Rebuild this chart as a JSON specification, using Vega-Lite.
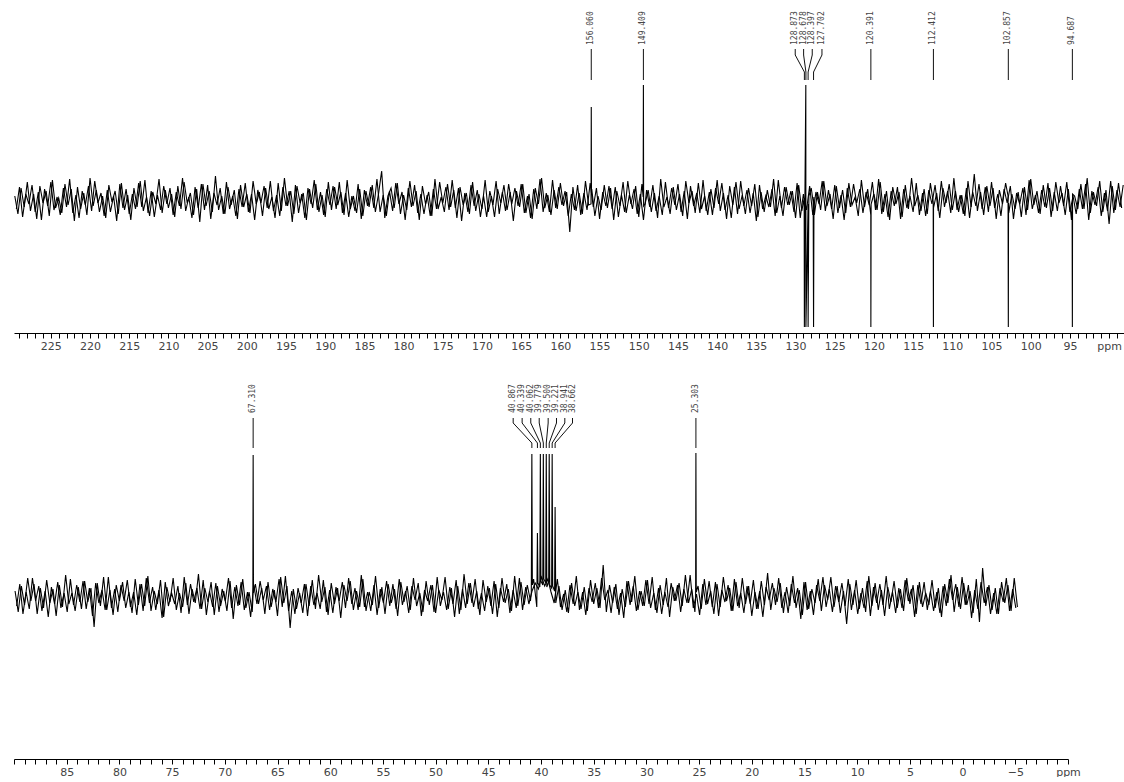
{
 "$schema": "https://vega.github.io/schema/vega-lite/v6.json",
 "background": "white",
 "padding": {"left": 12, "top": 0, "right": 0, "bottom": 0},
 "bounds": "flush",
 "spacing": 47,
 "config": {"view": {"stroke": null}, "font": "DejaVu Sans"},
 "datasets": {
  "topLabels": [
   {"p": 156.06, "lx": 156.06, "t": "156.060"},
   {"p": 149.409, "lx": 149.409, "t": "149.409"},
   {"p": 128.873, "lx": 130.04, "t": "128.873"},
   {"p": 128.678, "lx": 128.97, "t": "128.678"},
   {"p": 128.397, "lx": 127.87, "t": "128.397"},
   {"p": 127.702, "lx": 126.63, "t": "127.702"},
   {"p": 120.391, "lx": 120.391, "t": "120.391"},
   {"p": 112.412, "lx": 112.412, "t": "112.412"},
   {"p": 102.857, "lx": 102.857, "t": "102.857"},
   {"p": 94.687, "lx": 94.687, "t": "94.687"}
  ],
  "bottomLabels": [
   {"p": 67.31, "lx": 67.31, "t": "67.310"},
   {"p": 40.867, "lx": 42.64, "t": "40.867"},
   {"p": 40.339, "lx": 41.79, "t": "40.339"},
   {"p": 40.062, "lx": 40.97, "t": "40.062"},
   {"p": 39.779, "lx": 40.17, "t": "39.779"},
   {"p": 39.5, "lx": 39.32, "t": "39.500"},
   {"p": 39.221, "lx": 38.53, "t": "39.221"},
   {"p": 38.941, "lx": 37.74, "t": "38.941"},
   {"p": 38.662, "lx": 37.01, "t": "38.662"},
   {"p": 25.303, "lx": 25.303, "t": "25.303"}
  ]
 },
 "vconcat": [
  {
   "width": 1110, "height": 333,
   "layer": [
    {
     "data": {"values": "p,v\n229.6,4\n229.2,-14\n228.8,12\n228.4,-7\n228,18\n227.6,-11\n227.2,6\n226.8,-19\n226.4,14\n226,-3\n225.6,9\n225.2,-16\n224.8,20\n224.4,-8\n224,2\n223.6,-13\n223.2,16\n222.8,-5\n222.4,11\n222,-21\n221.6,13\n221.2,-9\n220.8,7\n220.4,-15\n220,22\n219.6,-6\n219.2,10\n218.8,-12\n218.4,4\n218,-18\n217.6,15\n217.2,-2\n216.8,9\n216.4,-14\n216,17\n215.6,-10\n215.2,5\n214.8,-20\n214.4,12\n214,-7\n213.6,19\n213.2,-11\n212.8,3\n212.4,-16\n212,8\n211.6,-4\n211.2,21\n210.8,-13\n210.4,10\n210,-8\n209.6,6\n209.2,-17\n208.8,14\n208.4,-9\n208,18\n207.6,-3\n207.2,7\n206.8,-15\n206.4,11\n206,-22\n205.6,16\n205.2,-6\n204.8,9\n204.4,-12\n204,24\n203.6,-10\n203.2,4\n202.8,-14\n202.4,13\n202,-5\n201.6,10\n201.2,-19\n200.8,15\n200.4,-7\n200,6\n199.6,-13\n199.2,19\n198.8,-4\n198.4,8\n198,-16\n197.6,12\n197.2,-9\n196.8,3\n196.4,-18\n196,17\n195.6,-11\n195.2,22\n194.8,-6\n194.4,9\n194,-14\n193.6,14\n193.2,-3\n192.8,7\n192.4,-20\n192,11\n191.6,-8\n191.2,16\n190.8,-12\n190.4,5\n190,-17\n189.6,18\n189.2,-10\n188.8,13\n188.4,-5\n188,8\n187.6,-15\n187.2,20\n186.8,-9\n186.4,4\n186,-13\n185.6,11\n185.2,-16\n184.8,9\n184.4,-7\n184,15\n183.6,-12\n183.2,6\n182.8,29\n182.4,-18\n182,4\n181.6,12\n181.2,-8\n180.8,17\n180.4,-14\n180,5\n179.6,-10\n179.2,19\n178.8,-6\n178.4,9\n178,-20\n177.6,14\n177.2,-4\n176.8,8\n176.4,-16\n176,21\n175.6,-9\n175.2,3\n174.8,-12\n174.4,16\n174,-7\n173.6,10\n173.2,-18\n172.8,13\n172.4,-5\n172,7\n171.6,-14\n171.2,18\n170.8,-11\n170.4,6\n170,-9\n169.6,20\n169.2,-12\n168.8,4\n168.4,-17\n168,11\n167.6,-3\n167.2,15\n166.8,-10\n166.4,8\n166,-21\n165.6,9\n165.2,-7\n164.8,16\n164.4,-13\n164,6\n163.6,-19\n163.2,12\n162.8,-4\n162.4,22\n162,-8\n161.6,5\n161.2,-15\n160.8,10\n160.4,-9\n160,17\n159.6,-6\n159.2,8\n158.8,-32\n158.4,13\n158,-11\n157.6,7\n157.2,-14\n156.8,19\n156.4,-5\n156.09,-4\n156.06,93\n156.03,5\n156,11\n155.6,-16\n155.2,4\n154.8,-10\n154.4,15\n154,-8\n153.6,12\n153.2,-20\n152.8,9\n152.4,-6\n152,18\n151.6,-13\n151.2,5\n150.8,-9\n150.4,14\n150,-17\n149.6,16\n149.44,3\n149.409,115\n149.38,-6\n149.2,-4\n148.8,10\n148.4,-12\n148,7\n147.6,-18\n147.2,21\n146.8,-7\n146.4,3\n146,-14\n145.6,13\n145.2,-10\n144.8,6\n144.4,-16\n144,19\n143.6,-3\n143.2,9\n142.8,-13\n142.4,17\n142,-9\n141.6,4\n141.2,-15\n140.8,11\n140.4,-8\n140,20\n139.6,-11\n139.2,7\n138.8,-19\n138.4,14\n138,-5\n137.6,18\n137.2,-9\n136.8,5\n136.4,-14\n136,12\n135.6,-6\n135.2,16\n134.8,-17\n134.4,8\n134,-12\n133.6,10\n133.2,-7\n132.8,21\n132.4,-13\n132,4\n131.6,-16\n131.2,13\n130.8,-5\n130.4,9\n130,-18\n129.6,15\n129.2,-11\n128.9,2\n128.873,-127\n128.8,7\n128.69,115\n128.678,-127\n128.4,-4\n128.397,-127\n128.3,4\n128,12\n127.75,-2\n127.702,-127\n127.65,3\n127.6,-15\n127.2,8\n126.8,-10\n126.4,19\n126,-6\n125.6,6\n125.2,-19\n124.8,14\n124.4,-8\n124,10\n123.6,-13\n123.2,17\n122.8,-5\n122.4,3\n122,-16\n121.6,20\n121.2,-7\n120.8,11\n120.4,-15\n120.391,-127\n120.36,-4\n120,6\n119.6,-10\n119.2,18\n118.8,-12\n118.4,9\n118,-20\n117.6,13\n117.2,-4\n116.8,8\n116.4,-17\n116,15\n115.6,-9\n115.2,22\n114.8,-6\n114.4,5\n114,-11\n113.6,11\n113.2,-14\n112.8,17\n112.44,-2\n112.412,-127\n112.4,-8\n112,7\n111.6,-18\n111.2,12\n110.8,-3\n110.4,16\n110,-10\n109.6,9\n109.2,-12\n108.8,5\n108.4,-16\n108,19\n107.6,-7\n107.2,26\n106.8,-11\n106.4,8\n106,-15\n105.6,14\n105.2,-6\n104.8,12\n104.4,-19\n104,10\n103.6,-4\n103.2,17\n102.89,4\n102.857,-127\n102.83,-3\n102.8,-13\n102.4,6\n102,-9\n101.6,8\n101.2,-17\n100.8,13\n100.4,-10\n100,21\n99.6,-5\n99.2,9\n98.8,-14\n98.4,15\n98,-8\n97.6,12\n97.2,-11\n96.8,18\n96.4,-3\n96,7\n95.6,-15\n95.2,11\n94.8,-20\n94.72,-5\n94.687,-127\n94.66,6\n94.4,4\n94,-9\n93.6,16\n93.2,-9\n92.8,22\n92.4,-13\n92,8\n91.6,-6\n91.2,19\n90.8,-12\n90.4,10\n90,-24\n89.6,14\n89.2,-10\n88.8,17\n88.4,-8", "format": {"type": "csv"}},
     "mark": {"type": "line", "color": "#000", "strokeWidth": 1.1},
     "encoding": {
      "x": {"field": "p", "type": "quantitative", "scale": {"domain": [229.7, 88.1], "nice": false, "zero": false},
       "axis": {"title": null, "grid": false, "tickCount": 142, "labelOverlap": false, "labelFlush": false, "domainColor": "#000", "tickColor": "#000",
        "tickSize": 5, "labelPadding": 2, "labelFont": "DejaVu Sans", "labelFontSize": 11, "labelColor": "#444",
        "labelExpr": "datum.value === 90 ? 'ppm' : (datum.value % 5 === 0 ? datum.label : '')",
        "encode": {
         "ticks": {"update": {"y2": {"signal": "datum.value % 5 === 0 ? 5 : 3"}}},
         "labels": {"update": {"dx": {"signal": "datum.value === 90 ? 6 : 0"}, "font": {"signal": "datum.value === 90 ? 'Liberation Serif' : 'DejaVu Sans'"}, "fontSize": {"signal": "datum.value === 90 ? 12 : 11"}}}
        }}},
      "y": {"field": "v", "type": "quantitative", "scale": {"domain": [-133, 200], "nice": false, "zero": false}, "axis": null}
     }
    },
    {
     "data": {"values": "p,v\n229.4,-9\n229,13\n228.6,-17\n228.2,6\n227.8,-4\n227.4,15\n227,-12\n226.6,8\n226.2,-20\n225.8,11\n225.4,-6\n225,18\n224.6,-10\n224.2,3\n223.8,-15\n223.4,12\n223,-7\n222.6,21\n222.2,-13\n221.8,5\n221.4,-18\n221,9\n220.6,-5\n220.2,14\n219.8,-11\n219.4,19\n219,-3\n218.6,7\n218.2,-16\n217.8,10\n217.4,-12\n217,4\n216.6,-21\n216.2,16\n215.8,-8\n215.4,11\n215,-14\n214.6,6\n214.2,-9\n213.8,17\n213.4,-7\n213,20\n212.6,-13\n212.2,9\n211.8,-17\n211.4,5\n211,-10\n210.6,14\n210.2,-4\n209.8,12\n209.4,-15\n209,8\n208.6,-6\n208.2,22\n207.8,-11\n207.4,3\n207,-18\n206.6,13\n206.2,-8\n205.8,16\n205.4,-10\n205,15\n204.6,-19\n204.2,7\n203.8,-5\n203.4,12\n203,-14\n202.6,18\n202.2,-9\n201.8,4\n201.4,-16\n201,11\n200.6,-7\n200.2,17\n199.8,-12\n199.4,6\n199,-20\n198.6,10\n198.2,-3\n197.8,14\n197.4,-8\n197,19\n196.6,-11\n196.2,5\n195.8,-16\n195.4,13\n195,-6\n194.6,9\n194.2,-22\n193.8,15\n193.4,-13\n193,6\n192.6,-18\n192.2,12\n191.8,-4\n191.4,20\n191,-10\n190.6,8\n190.2,-15\n189.8,11\n189.4,-5\n189,14\n188.6,-9\n188.2,18\n187.8,-13\n187.4,7\n187,-17\n186.6,4\n186.2,-11\n185.8,16\n185.4,-19\n185,10\n184.6,-6\n184.2,13\n183.8,-8\n183.4,21\n183,-12\n182.6,5\n182.2,-16\n181.8,9\n181.4,-11\n181,17\n180.6,-4\n180.2,8\n179.8,-20\n179.4,12\n179,-7\n178.6,15\n178.2,-13\n177.8,6\n177.4,-14\n177,5\n176.6,-16\n176.2,11\n175.8,-9\n175.4,18\n175,-3\n174.6,13\n174.2,-10\n173.8,20\n173.4,-8\n173,12\n172.6,-21\n172.2,7\n171.8,-12\n171.4,15\n171,-6\n170.6,10\n170.2,-17\n169.8,4\n169.4,-17\n169,9\n168.6,-5\n168.2,19\n167.8,-14\n167.4,8\n167,-11\n166.6,16\n166.2,-4\n165.8,12\n165.4,-6\n165,16\n164.6,-13\n164.2,4\n163.8,-18\n163.4,11\n163,-9\n162.6,21\n162.2,-12\n161.8,7\n161.4,-12\n161,20\n160.6,-8\n160.2,13\n159.8,-5\n159.4,9\n159,-16\n158.6,6\n158.2,-10\n157.8,15\n157.4,-15\n157,7\n156.6,-10\n156.2,17\n155.8,-7\n155.4,12\n155,-19\n154.6,8\n154.2,-6\n153.8,14\n153.4,-9\n153,13\n152.6,-17\n152.2,5\n151.8,-12\n151.4,19\n151,-4\n150.6,11\n150.2,-14\n149.8,6\n149.4,-20\n149,10\n148.6,-7\n148.2,15\n147.8,-11\n147.4,4\n147,-15\n146.6,18\n146.2,-8\n145.8,12\n145.4,-5\n145,16\n144.6,-12\n144.2,9\n143.8,-19\n143.4,14\n143,-6\n142.6,7\n142.2,-13\n141.8,20\n141.4,-11\n141,8\n140.6,-15\n140.2,12\n139.8,-4\n139.4,17\n139,-10\n138.6,5\n138.2,-18\n137.8,13\n137.4,-14\n137,19\n136.6,-6\n136.2,10\n135.8,-13\n135.4,7\n135,-21\n134.6,15\n134.2,-9\n133.8,4\n133.4,-7\n133,11\n132.6,-16\n132.2,20\n131.8,-8\n131.4,13\n131,-5\n130.6,9\n130.2,-12\n129.8,17\n129.4,-18\n129,6\n128.6,-10\n128.2,14\n127.8,-15\n127.4,8\n127,-4\n126.6,19\n126.2,-11\n125.8,10\n125.4,-9\n125,15\n124.6,-13\n124.2,5\n123.8,-20\n123.4,12\n123,-7\n122.6,16\n122.2,-3\n121.8,11\n121.4,-13\n121,8\n120.6,-5\n120.2,18\n119.8,-10\n119.4,21\n119,-14\n118.6,6\n118.2,-17\n117.8,9\n117.4,-6\n117,13\n116.6,-19\n116.2,11\n115.8,-8\n115.4,4\n115,-12\n114.6,17\n114.2,-15\n113.8,7\n113.4,-16\n113,10\n112.6,-4\n112.2,15\n111.8,-11\n111.4,19\n111,-7\n110.6,9\n110.2,-13\n109.8,22\n109.4,-10\n109,5\n108.6,-14\n108.2,12\n107.8,-18\n107.4,8\n107,-6\n106.6,16\n106.2,-9\n105.8,13\n105.4,-12\n105,18\n104.6,-8\n104.2,6\n103.8,-16\n103.4,11\n103,-3\n102.6,14\n102.2,-19\n101.8,7\n101.4,-4\n101,12\n100.6,-15\n100.2,20\n99.8,-9\n99.4,5\n99,-13\n98.6,10\n98.2,-7\n97.8,17\n97.4,-17\n97,8\n96.6,-11\n96.2,14\n95.8,-6\n95.4,18\n95,-12\n94.6,4\n94.2,-14\n93.8,11\n93.4,-9\n93,16\n92.6,-20\n92.2,9\n91.8,-5\n91.4,13\n91,-16\n90.6,7\n90.2,-11\n89.8,19\n89.4,-13\n89,10\n88.6,-7\n88.2,15", "format": {"type": "csv"}},
     "mark": {"type": "line", "color": "#000", "strokeWidth": 1.1},
     "encoding": {
      "x": {"field": "p", "type": "quantitative", "scale": {"domain": [229.7, 88.1], "nice": false, "zero": false}},
      "y": {"field": "v", "type": "quantitative", "scale": {"domain": [-133, 200], "nice": false, "zero": false}, "axis": null}
     }
    },
    {"data": {"name": "topLabels"},
     "mark": {"type": "text", "angle": 270, "align": "left", "baseline": "middle", "font": "DejaVu Sans Mono", "fontSize": 8, "color": "#444"},
     "encoding": {"x": {"field": "lx", "type": "quantitative", "scale": {"domain": [229.7, 88.1], "nice": false, "zero": false}},
      "y": {"datum": 155, "scale": {"domain": [-133, 200], "nice": false, "zero": false}, "axis": null}, "text": {"field": "t"}}},
    {"data": {"name": "topLabels"},
     "mark": {"type": "rule", "color": "#111", "strokeWidth": 1},
     "encoding": {"x": {"field": "lx", "type": "quantitative", "scale": {"domain": [229.7, 88.1], "nice": false, "zero": false}},
      "y": {"datum": 151, "scale": {"domain": [-133, 200], "nice": false, "zero": false}, "axis": null}, "y2": {"datum": 145}}},
    {"data": {"name": "topLabels"},
     "mark": {"type": "rule", "color": "#111", "strokeWidth": 1},
     "encoding": {"x": {"field": "lx", "type": "quantitative", "scale": {"domain": [229.7, 88.1], "nice": false, "zero": false}}, "x2": {"field": "p"},
      "y": {"datum": 145, "scale": {"domain": [-133, 200], "nice": false, "zero": false}, "axis": null}, "y2": {"datum": 128}}},
    {"data": {"name": "topLabels"},
     "mark": {"type": "rule", "color": "#111", "strokeWidth": 1},
     "encoding": {"x": {"field": "p", "type": "quantitative", "scale": {"domain": [229.7, 88.1], "nice": false, "zero": false}},
      "y": {"datum": 128, "scale": {"domain": [-133, 200], "nice": false, "zero": false}, "axis": null}, "y2": {"datum": 120}}}
   ]
  },
  {
   "width": 1054, "height": 379,
   "layer": [
    {
     "data": {"values": "p,v\n89.9,6\n89.6,-15\n89.3,11\n89,-8\n88.7,19\n88.4,-4\n88.1,13\n87.8,-17\n87.5,9\n87.2,-11\n86.9,17\n86.6,-6\n86.3,8\n86,-19\n85.7,12\n85.4,-10\n85.1,22\n84.8,-7\n84.5,4\n84.2,-14\n83.9,10\n83.6,-12\n83.3,16\n83,-5\n82.7,9\n82.4,-30\n82.1,14\n81.8,-9\n81.5,20\n81.2,-13\n80.9,7\n80.6,-18\n80.3,12\n80,-4\n79.7,15\n79.4,-11\n79.1,5\n78.8,-16\n78.5,18\n78.2,-8\n77.9,13\n77.6,-9\n77.3,21\n77,-14\n76.7,6\n76.4,-7\n76.1,17\n75.8,-20\n75.5,10\n75.2,-5\n74.9,19\n74.6,-13\n74.3,4\n74,-10\n73.7,14\n73.4,-17\n73.1,8\n72.8,-6\n72.5,23\n72.2,-12\n71.9,9\n71.6,-5\n71.3,15\n71,-18\n70.7,11\n70.4,-9\n70.1,6\n69.8,-14\n69.5,16\n69.2,-22\n68.9,12\n68.6,-8\n68.3,18\n68,-11\n67.7,5\n67.4,-15\n67.34,-3\n67.31,142\n67.28,4\n67.1,13\n66.8,-7\n66.5,9\n66.2,-17\n65.9,15\n65.6,-10\n65.3,7\n65,-19\n64.7,20\n64.4,-6\n64.1,11\n63.8,-31\n63.5,8\n63.2,-12\n62.9,4\n62.6,-16\n62.3,13\n62,-9\n61.7,17\n61.4,-12\n61.1,22\n60.8,-5\n60.5,10\n60.2,-18\n59.9,14\n59.6,-7\n59.3,9\n59,-21\n58.7,12\n58.4,-4\n58.1,16\n57.8,-13\n57.5,6\n57.2,-10\n56.9,18\n56.6,-14\n56.3,5\n56,-8\n55.7,21\n55.4,-11\n55.1,10\n54.8,-17\n54.5,13\n54.2,-6\n53.9,8\n53.6,-19\n53.3,15\n53,-5\n52.7,11\n52.4,-13\n52.1,19\n51.8,-9\n51.5,4\n51.2,-15\n50.9,16\n50.6,-8\n50.3,12\n50,-16\n49.7,7\n49.4,-3\n49.1,20\n48.8,-12\n48.5,9\n48.2,-20\n47.9,11\n47.6,-13\n47.3,23\n47,-7\n46.7,14\n46.4,-10\n46.1,6\n45.8,-18\n45.5,17\n45.2,-5\n44.9,9\n44.6,-17\n44.3,13\n44,-11\n43.7,19\n43.4,-6\n43.1,8\n42.8,-14\n42.5,21\n42.2,-9\n41.9,15\n41.6,-8\n41.3,12\n41,-4\n40.92,4\n40.867,143\n40.82,12\n40.7,18\n40.4,-10\n40.339,64\n40.29,14\n40.11,10\n40.062,143\n40.01,16\n39.83,12\n39.779,143\n39.73,18\n39.55,14\n39.5,143\n39.45,10\n39.27,15\n39.221,143\n39.17,12\n38.99,9\n38.941,143\n38.89,11\n38.71,6\n38.662,90\n38.6,-6\n38.3,11\n38,-13\n37.7,7\n37.4,-16\n37.1,14\n36.8,-9\n36.5,5\n36.2,-12\n35.9,10\n35.6,-14\n35.3,17\n35,-7\n34.7,9\n34.4,-11\n34.1,32\n33.8,-15\n33.5,12\n33.2,-6\n32.9,13\n32.6,-18\n32.3,8\n32,-10\n31.7,16\n31.4,-5\n31.1,21\n30.8,-13\n30.5,6\n30.2,-9\n29.9,17\n29.6,-11\n29.3,4\n29,-16\n28.7,12\n28.4,-8\n28.1,19\n27.8,-20\n27.5,10\n27.2,-4\n26.9,14\n26.6,-9\n26.3,22\n26,-6\n25.7,8\n25.4,-15\n25.33,-2\n25.303,144\n25.27,5\n25.1,11\n24.8,-12\n24.5,18\n24.2,-7\n23.9,6\n23.6,-17\n23.3,13\n23,-10\n22.7,20\n22.4,-4\n22.1,9\n21.8,-14\n21.5,15\n21.2,-11\n20.9,19\n20.6,-7\n20.3,11\n20,-19\n19.7,5\n19.4,-12\n19.1,16\n18.8,-8\n18.5,24\n18.2,-13\n17.9,9\n17.6,-5\n17.3,14\n17,-16\n16.7,10\n16.4,-9\n16.1,21\n15.8,-11\n15.5,7\n15.2,-18\n14.9,15\n14.6,-12\n14.3,8\n14,-6\n13.7,18\n13.4,-14\n13.1,12\n12.8,-3\n12.5,20\n12.2,-10\n11.9,11\n11.6,-16\n11.3,6\n11,-27\n10.7,13\n10.4,-8\n10.1,17\n9.8,-12\n9.5,9\n9.2,-15\n8.9,21\n8.6,-9\n8.3,14\n8,-13\n7.7,7\n7.4,-19\n7.1,10\n6.8,-5\n6.5,16\n6.2,-11\n5.9,8\n5.6,-14\n5.3,19\n5,-7\n4.7,12\n4.4,-17\n4.1,15\n3.8,-10\n3.5,4\n3.2,-8\n2.9,17\n2.6,-11\n2.3,9\n2,-20\n1.7,13\n1.4,-6\n1.1,22\n0.8,-15\n0.5,10\n0.2,-12\n-0.1,14\n-0.4,-8\n-0.7,6\n-1,-16\n-1.3,18\n-1.6,-25\n-1.9,29\n-2.2,-9\n-2.5,12\n-2.8,-13\n-3.1,9\n-3.4,-17\n-3.7,15\n-4,-6\n-4.3,12\n-4.6,-14\n-4.9,19\n-5.2,-10", "format": {"type": "csv"}},
     "mark": {"type": "line", "color": "#000", "strokeWidth": 1.1},
     "encoding": {
      "x": {"field": "p", "type": "quantitative", "scale": {"domain": [90, -10], "nice": false, "zero": false},
       "axis": {"title": null, "grid": false, "tickCount": 100, "labelOverlap": false, "labelFlush": false, "domainColor": "#000", "tickColor": "#000",
        "tickSize": 5, "labelPadding": 2, "labelFont": "DejaVu Sans", "labelFontSize": 11, "labelColor": "#444",
        "labelExpr": "datum.value === -10 ? 'ppm' : ((datum.value % 5 === 0 && datum.value < 89) ? datum.label : '')",
        "encode": {
         "ticks": {"update": {"y2": {"signal": "datum.value % 5 === 0 ? 5 : 3"}}},
         "labels": {"update": {"dx": {"signal": "datum.value === -10 ? -10 : 0"}, "font": {"signal": "datum.value === -10 ? 'Liberation Serif' : 'DejaVu Sans'"}, "fontSize": {"signal": "datum.value === -10 ? 12 : 11"}}}
        }}},
      "y": {"field": "v", "type": "quantitative", "scale": {"domain": [-162, 217], "nice": false, "zero": false}, "axis": null}
     }
    },
    {
     "data": {"values": "p,v\n89.75,-9\n89.45,13\n89.15,-17\n88.85,5\n88.55,-12\n88.25,19\n87.95,-4\n87.65,11\n87.35,-14\n87.05,6\n86.75,-20\n86.45,10\n86.15,-7\n85.85,15\n85.55,-11\n85.25,4\n84.95,-15\n84.65,18\n84.35,-8\n84.05,12\n83.75,-5\n83.45,16\n83.15,-12\n82.85,9\n82.55,-19\n82.25,14\n81.95,-6\n81.65,7\n81.35,-13\n81.05,20\n80.75,-11\n80.45,8\n80.15,-15\n79.85,12\n79.55,-4\n79.25,17\n78.95,-10\n78.65,5\n78.35,-18\n78.05,13\n77.75,-14\n77.45,19\n77.15,-6\n76.85,10\n76.55,-13\n76.25,7\n75.95,-21\n75.65,15\n75.35,-9\n75.05,4\n74.75,-7\n74.45,11\n74.15,-16\n73.85,20\n73.55,-8\n73.25,13\n72.95,-5\n72.65,9\n72.35,-12\n72.05,17\n71.75,-18\n71.45,6\n71.15,-10\n70.85,14\n70.55,-15\n70.25,8\n69.95,-4\n69.65,19\n69.35,-11\n69.05,10\n68.75,-9\n68.45,15\n68.15,-13\n67.85,5\n67.55,-20\n67.25,12\n66.95,-7\n66.65,16\n66.35,-3\n66.05,11\n65.75,-13\n65.45,8\n65.15,-5\n64.85,18\n64.55,-10\n64.25,21\n63.95,-14\n63.65,6\n63.35,-17\n63.05,9\n62.75,-6\n62.45,13\n62.15,-19\n61.85,11\n61.55,-8\n61.25,4\n60.95,-12\n60.65,17\n60.35,-15\n60.05,7\n59.75,-16\n59.45,10\n59.15,-4\n58.85,15\n58.55,-11\n58.25,19\n57.95,-7\n57.65,9\n57.35,-13\n57.05,22\n56.75,-10\n56.45,5\n56.15,-14\n55.85,12\n55.55,-18\n55.25,8\n54.95,-6\n54.65,16\n54.35,-9\n54.05,13\n53.75,-12\n53.45,18\n53.15,-8\n52.85,6\n52.55,-16\n52.25,11\n51.95,-3\n51.65,14\n51.35,-19\n51.05,7\n50.75,-4\n50.45,12\n50.15,-15\n49.85,20\n49.55,-9\n49.25,5\n48.95,-13\n48.65,10\n48.35,-7\n48.05,17\n47.75,-17\n47.45,8\n47.15,-11\n46.85,14\n46.55,-6\n46.25,18\n45.95,-12\n45.65,4\n45.35,-14\n45.05,11\n44.75,-9\n44.45,16\n44.15,-20\n43.85,9\n43.55,-5\n43.25,13\n42.95,-16\n42.65,7\n42.35,-11\n42.05,19\n41.75,-13\n41.45,10\n41.15,-7\n40.85,6\n40.55,14\n40.25,8\n39.95,20\n39.65,11\n39.35,18\n39.05,5\n38.75,-6\n38.45,18\n38.15,-10\n37.85,3\n37.55,-15\n37.25,12\n36.95,-7\n36.65,21\n36.35,-13\n36.05,5\n35.75,-18\n35.45,9\n35.15,-5\n34.85,14\n34.55,-11\n34.25,19\n33.95,-3\n33.65,7\n33.35,-16\n33.05,10\n32.75,-12\n32.45,4\n32.15,-21\n31.85,16\n31.55,-8\n31.25,11\n30.95,-14\n30.65,6\n30.35,-9\n30.05,17\n29.75,-7\n29.45,20\n29.15,-13\n28.85,9\n28.55,-17\n28.25,5\n27.95,-10\n27.65,14\n27.35,-4\n27.05,12\n26.75,-15\n26.45,8\n26.15,-6\n25.85,22\n25.55,-11\n25.25,3\n24.95,-18\n24.65,13\n24.35,-8\n24.05,16\n23.75,-10\n23.45,15\n23.15,-19\n22.85,7\n22.55,-5\n22.25,12\n21.95,-14\n21.65,18\n21.35,-9\n21.05,4\n20.75,-16\n20.45,11\n20.15,-7\n19.85,17\n19.55,-12\n19.25,6\n18.95,-20\n18.65,10\n18.35,-3\n18.05,14\n17.75,-8\n17.45,19\n17.15,-11\n16.85,5\n16.55,-16\n16.25,13\n15.95,-6\n15.65,9\n15.35,-22\n15.05,15\n14.75,-13\n14.45,6\n14.15,-18\n13.85,12\n13.55,-4\n13.25,20\n12.95,-10\n12.65,8\n12.35,-15\n12.05,11\n11.75,-5\n11.45,14\n11.15,-9\n10.85,18\n10.55,-13\n10.25,7\n9.95,-17\n9.65,4\n9.35,-11\n9.05,16\n8.75,-19\n8.45,10\n8.15,-6\n7.85,13\n7.55,-8\n7.25,21\n6.95,-12\n6.65,5\n6.35,-16\n6.05,9\n5.75,-11\n5.45,17\n5.15,-4\n4.85,8\n4.55,-20\n4.25,12\n3.95,-7\n3.65,15\n3.35,-13\n3.05,6\n2.75,-14\n2.45,5\n2.15,-16\n1.85,11\n1.55,-9\n1.25,18\n0.95,-3\n0.65,13\n0.35,-10\n0.05,20\n-0.25,-8\n-0.55,12\n-0.85,-21\n-1.15,7\n-1.45,-12\n-1.75,15\n-2.05,-6\n-2.35,10\n-2.65,-17\n-2.95,4\n-3.25,-17\n-3.55,9\n-3.85,-5\n-4.15,19\n-4.45,-14\n-4.75,8\n-5.05,-11", "format": {"type": "csv"}},
     "mark": {"type": "line", "color": "#000", "strokeWidth": 1.1},
     "encoding": {
      "x": {"field": "p", "type": "quantitative", "scale": {"domain": [90, -10], "nice": false, "zero": false}},
      "y": {"field": "v", "type": "quantitative", "scale": {"domain": [-162, 217], "nice": false, "zero": false}, "axis": null}
     }
    },
    {"data": {"name": "bottomLabels"},
     "mark": {"type": "text", "angle": 270, "align": "left", "baseline": "middle", "font": "DejaVu Sans Mono", "fontSize": 8, "color": "#444"},
     "encoding": {"x": {"field": "lx", "type": "quantitative", "scale": {"domain": [90, -10], "nice": false, "zero": false}},
      "y": {"datum": 184, "scale": {"domain": [-162, 217], "nice": false, "zero": false}, "axis": null}, "text": {"field": "t"}}},
    {"data": {"name": "bottomLabels"},
     "mark": {"type": "rule", "color": "#111", "strokeWidth": 1},
     "encoding": {"x": {"field": "lx", "type": "quantitative", "scale": {"domain": [90, -10], "nice": false, "zero": false}},
      "y": {"datum": 179, "scale": {"domain": [-162, 217], "nice": false, "zero": false}, "axis": null}, "y2": {"datum": 174}}},
    {"data": {"name": "bottomLabels"},
     "mark": {"type": "rule", "color": "#111", "strokeWidth": 1},
     "encoding": {"x": {"field": "lx", "type": "quantitative", "scale": {"domain": [90, -10], "nice": false, "zero": false}}, "x2": {"field": "p"},
      "y": {"datum": 174, "scale": {"domain": [-162, 217], "nice": false, "zero": false}, "axis": null}, "y2": {"datum": 154}}},
    {"data": {"name": "bottomLabels"},
     "mark": {"type": "rule", "color": "#111", "strokeWidth": 1},
     "encoding": {"x": {"field": "p", "type": "quantitative", "scale": {"domain": [90, -10], "nice": false, "zero": false}},
      "y": {"datum": 154, "scale": {"domain": [-162, 217], "nice": false, "zero": false}, "axis": null}, "y2": {"datum": 149}}}
   ]
  }
 ]
}
